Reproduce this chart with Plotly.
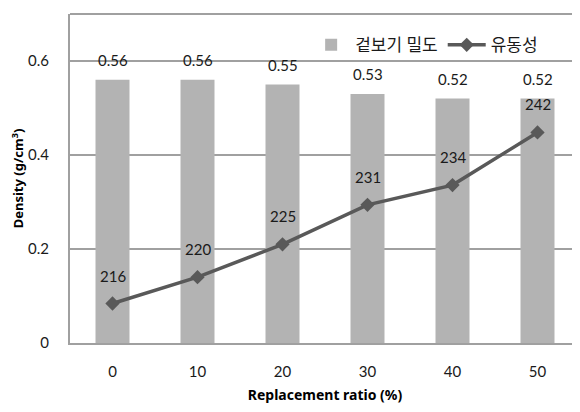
import plotly.graph_objects as go

categories = ["0", "10", "20", "30", "40", "50"]
density = [0.56, 0.56, 0.55, 0.53, 0.52, 0.52]
flowability = [216, 220, 225, 231, 234, 242]
y_ticks = [0, 0.2, 0.4, 0.6]
y_tick_labels = ["0", "0.2", "0.4", "0.6"]

FONT = "Lato, Noto Sans CJK KR, sans-serif"
TITLE_FONT = "Noto Sans, Noto Sans CJK KR, sans-serif"
TXT = "#1a1a1a"
GRID = "#a0a0a0"

fig = go.Figure()
fig.add_trace(go.Bar(
    x=categories, y=density, name="겉보기 밀도",
    marker=dict(color="#b3b3b3", line=dict(width=0)),
    width=0.4,
))
fig.add_trace(go.Scatter(
    x=categories, y=flowability, name="유동성", yaxis="y2",
    mode="lines+markers",
    line=dict(color="#595959", width=3.5),
    marker=dict(symbol="diamond", size=11, color="#595959"),
))

for i, v in enumerate(density):
    fig.add_annotation(x=i, y=v, xref="x", yref="y", text=f"{v:.2f}",
                       showarrow=False, yanchor="bottom", yshift=9,
                       font=dict(size=15, color=TXT, family=FONT))
for i, v in enumerate(flowability):
    fig.add_annotation(x=i, y=v, xref="x", yref="y2", text=str(v),
                       showarrow=False, yanchor="bottom", yshift=17,
                       font=dict(size=15, color=TXT, family=FONT))

# page body has an 8px default margin, so the figure is shifted by 8px
fig.update_layout(
    width=572, height=404,
    margin=dict(l=62, r=0, t=6, b=69, autoexpand=False),
    paper_bgcolor="white", plot_bgcolor="white",
    font=dict(family=FONT, color=TXT, size=15),
    showlegend=True,
    legend=dict(orientation="h", x=0.465, y=0.905, xanchor="left", yanchor="middle",
                bgcolor="rgba(255,255,255,0)", font=dict(size=17, color=TXT),
                itemwidth=38, tracegroupgap=0),
    xaxis=dict(
        type="category", range=[-0.5, 5.5], automargin=False,
        showline=True, linecolor=GRID, linewidth=2,
        showgrid=False, ticks="", ticklabelstandoff=14,
        tickfont=dict(size=15, color=TXT),
        title=dict(text="<b>Replacement ratio (%)</b>",
                   font=dict(size=14, color="black", family=TITLE_FONT), standoff=11),
    ),
    yaxis=dict(
        range=[0, 0.7], tickvals=y_ticks, ticktext=y_tick_labels, automargin=False,
        showline=True, linecolor=GRID, linewidth=2,
        showgrid=True, gridcolor=GRID, gridwidth=2,
        zeroline=False, ticks="", ticklabelstandoff=16,
        tickfont=dict(size=15, color=TXT),
        title=dict(text="<b>Density (g/cm<sup>3</sup>)</b>",
                   font=dict(size=13, color="black", family=TITLE_FONT), standoff=12),
    ),
    yaxis2=dict(
        overlaying="y", side="right", range=[210, 260], automargin=False,
        showgrid=False, showticklabels=False, zeroline=False, showline=False,
    ),
    shapes=[dict(type="line", xref="paper", yref="paper", x0=0, x1=1, y0=1, y1=1,
                 line=dict(color=GRID, width=2))],
)

fig.write_html("out.html")
